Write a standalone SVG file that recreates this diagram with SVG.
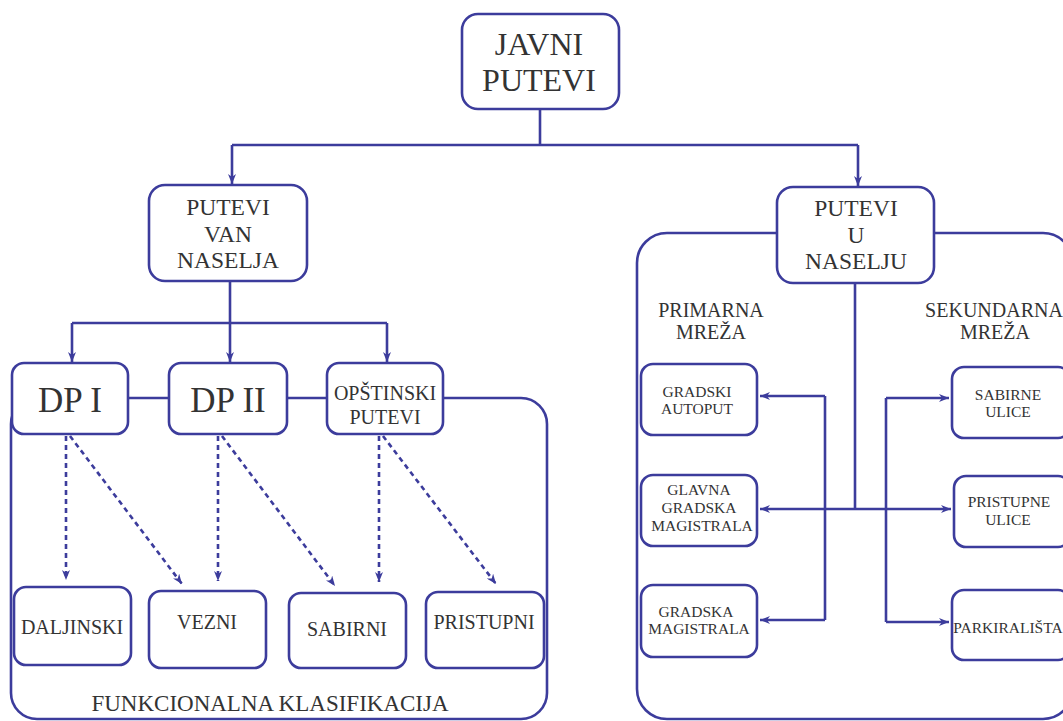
<svg xmlns="http://www.w3.org/2000/svg" width="1063" height="721" viewBox="0 0 1063 721">
  <style>
    .box { fill: #ffffff; stroke: #3c3c9c; stroke-width: 2.6; }
    .frame { fill: none; stroke: #3c3c9c; stroke-width: 2.6; }
    .ln { fill: none; stroke: #3c3c9c; stroke-width: 2.6; }
    .dash { fill: none; stroke: #3c3c9c; stroke-width: 2.6; stroke-dasharray: 5 4; }
    .t32 { font-size: 32px; }
    .t24 { font-size: 23.5px; }
    .t35 { font-size: 35px; }
    .t20 { font-size: 20px; }
    .t22 { font-size: 23px; }
    .t15 { font-size: 15.5px; }
  </style>
  <defs>
    <marker id="arr" viewBox="0 0 10 8" refX="10" refY="4" markerWidth="10" markerHeight="8" markerUnits="userSpaceOnUse" orient="auto">
      <path d="M0,0 L10,4 L0,8 L3,4 z" fill="#3c3c9c"/>
    </marker>
  </defs>

  <!-- outer frames -->
  <g id="frame-van-naselja">
    <rect class="frame" x="11" y="398" width="536" height="321" rx="26"/>
  </g>
  <g id="frame-u-naselju">
    <rect class="frame" x="637" y="233" width="436" height="486" rx="30"/>
  </g>

  <!-- connectors -->
  <g id="connectors">
    <path class="ln" d="M540,109 V145"/>
    <path class="ln" d="M232,145 H858"/>
    <path class="ln" d="M232,145 V184" marker-end="url(#arr)"/>
    <path class="ln" d="M858,145 V186" marker-end="url(#arr)"/>

    <path class="ln" d="M230,281 V323"/>
    <path class="ln" d="M72,323 H387"/>
    <path class="ln" d="M72,323 V362" marker-end="url(#arr)"/>
    <path class="ln" d="M230,323 V362" marker-end="url(#arr)"/>
    <path class="ln" d="M387,323 V362" marker-end="url(#arr)"/>

    <path class="dash" d="M66,436 V580" marker-end="url(#arr)"/>
    <path class="dash" d="M70,436 L182,584" marker-end="url(#arr)"/>
    <path class="dash" d="M218,436 V581" marker-end="url(#arr)"/>
    <path class="dash" d="M222,436 L335,586" marker-end="url(#arr)"/>
    <path class="dash" d="M379,436 V582" marker-end="url(#arr)"/>
    <path class="dash" d="M383,436 L496,584" marker-end="url(#arr)"/>

    <path class="ln" d="M855,284 V509"/>
    <path class="ln" d="M855,509 H760" marker-end="url(#arr)"/>
    <path class="ln" d="M855,509 H951" marker-end="url(#arr)"/>
    <path class="ln" d="M825,396 V620"/>
    <path class="ln" d="M825,396 H760" marker-end="url(#arr)"/>
    <path class="ln" d="M825,620 H760" marker-end="url(#arr)"/>
    <path class="ln" d="M886,398 V622"/>
    <path class="ln" d="M886,398 H949" marker-end="url(#arr)"/>
    <path class="ln" d="M886,622 H949" marker-end="url(#arr)"/>
  </g>

  <!-- nodes -->
  <g font-family="Liberation Serif, Times New Roman, serif" fill="#333333" text-anchor="middle">
  <g id="javni-putevi">
    <rect class="box" x="462" y="14" width="157" height="95" rx="16"/>
    <text class="t32" x="539" y="55">JAVNI</text>
    <text class="t32" x="539" y="91">PUTEVI</text>
  </g>

  <g id="putevi-van-naselja">
    <rect class="box" x="149" y="185" width="158" height="96" rx="16"/>
    <text class="t24" x="228" y="215">PUTEVI</text>
    <text class="t24" x="228" y="242">VAN</text>
    <text class="t24" x="228" y="268">NASELJA</text>
  </g>

  <g id="putevi-u-naselju">
    <rect class="box" x="777" y="187" width="157" height="96" rx="16"/>
    <text class="t24" x="856" y="216">PUTEVI</text>
    <text class="t24" x="856" y="243">U</text>
    <text class="t24" x="856" y="269">NASELJU</text>
  </g>

  <g id="dp-1">
    <rect class="box" x="12" y="363" width="116" height="71" rx="12"/>
    <text class="t35" x="70" y="412">DP I</text>
  </g>
  <g id="dp-2">
    <rect class="box" x="169" y="363" width="118" height="71" rx="12"/>
    <text class="t35" x="228" y="412">DP II</text>
  </g>
  <g id="opstinski-putevi">
    <rect class="box" x="327" y="363" width="116" height="71" rx="12"/>
    <text class="t20" x="385" y="400">OPŠTINSKI</text>
    <text class="t20" x="385" y="424">PUTEVI</text>
  </g>

  <g id="daljinski">
    <rect class="box" x="14" y="587" width="117" height="78" rx="12"/>
    <text class="t20" x="72" y="634">DALJINSKI</text>
  </g>
  <g id="vezni">
    <rect class="box" x="149" y="591" width="117" height="77" rx="12"/>
    <text class="t20" x="207" y="629">VEZNI</text>
  </g>
  <g id="sabirni">
    <rect class="box" x="289" y="593" width="117" height="75" rx="12"/>
    <text class="t20" x="347" y="636">SABIRNI</text>
  </g>
  <g id="pristupni">
    <rect class="box" x="426" y="592" width="118" height="76" rx="12"/>
    <text class="t20" x="484" y="629">PRISTUPNI</text>
  </g>
  <g id="funkcionalna-klasifikacija">
    <text class="t22" x="270" y="711">FUNKCIONALNA KLASIFIKACIJA</text>
  </g>

  <g id="primarna-mreza">
    <text class="t20" x="711" y="317">PRIMARNA</text>
    <text class="t20" x="711" y="339">MREŽA</text>
  </g>
  <g id="sekundarna-mreza">
    <text class="t20" x="994" y="317">SEKUNDARNA</text>
    <text class="t20" x="995" y="339">MREŽA</text>
  </g>

  <g id="gradski-autoput">
    <rect class="box" x="641" y="364" width="116" height="71" rx="12"/>
    <text class="t15" x="697" y="397">GRADSKI</text>
    <text class="t15" x="697" y="414">AUTOPUT</text>
  </g>
  <g id="glavna-gradska-magistrala">
    <rect class="box" x="641" y="475" width="116" height="71" rx="12"/>
    <text class="t15" x="699" y="495">GLAVNA</text>
    <text class="t15" x="699" y="513">GRADSKA</text>
    <text class="t15" x="702" y="531">MAGISTRALA</text>
  </g>
  <g id="gradska-magistrala">
    <rect class="box" x="641" y="585" width="116" height="72" rx="12"/>
    <text class="t15" x="696" y="617">GRADSKA</text>
    <text class="t15" x="699" y="634">MAGISTRALA</text>
  </g>

  <g id="sabirne-ulice">
    <rect class="box" x="952" y="367" width="118" height="71" rx="12"/>
    <text class="t15" x="1008" y="400">SABIRNE</text>
    <text class="t15" x="1008" y="417">ULICE</text>
  </g>
  <g id="pristupne-ulice">
    <rect class="box" x="954" y="476" width="116" height="71" rx="12"/>
    <text class="t15" x="1009" y="507">PRISTUPNE</text>
    <text class="t15" x="1008" y="525">ULICE</text>
  </g>
  <g id="parkiralista">
    <rect class="box" x="952" y="590" width="118" height="70" rx="12"/>
    <text class="t15" x="1008" y="633">PARKIRALIŠTA</text>
  </g>
  </g>
</svg>
